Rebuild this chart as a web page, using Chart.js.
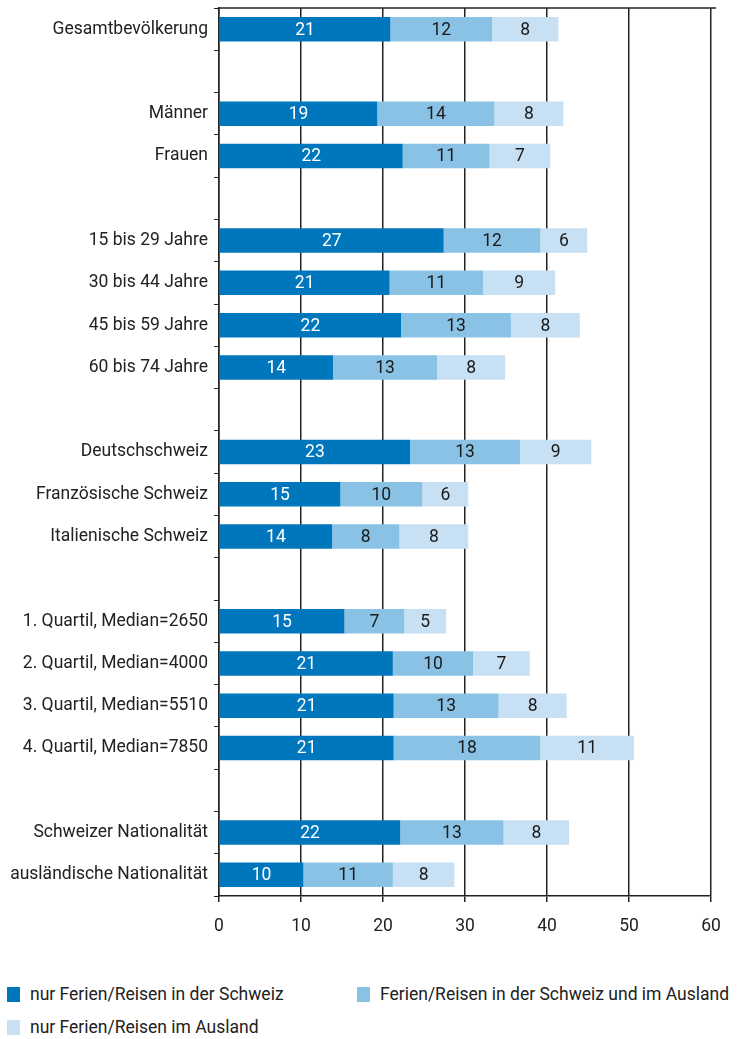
<!DOCTYPE html>
<html>
<head>
<meta charset="utf-8">
<script src="https://cdn.jsdelivr.net/npm/chart.js@4.4.1/dist/chart.umd.min.js"></script>
<style>
  body { margin: 0; background: #fff; font-family: Roboto, sans-serif; }
  #wrap { position: relative; width: 743px; height: 960px; }
  #legend { position: absolute; left: 0; top: 984px; width: 743px; font-size: 17.5px; color: #222; }
  .item { position: absolute; display: flex; align-items: center; }
  .box { width: 13px; height: 15px; margin-right: 10px; }
</style>
</head>
<body>
<div id="wrap"><canvas id="chart"></canvas></div>
<div id="legend"></div>
<script>
// categories, empty strings are the gaps between groups
const categories = [
    'Gesamtbevölkerung', '',
    'Männer', 'Frauen', '',
    '15 bis 29 Jahre', '30 bis 44 Jahre', '45 bis 59 Jahre', '60 bis 74 Jahre', '',
    'Deutschschweiz', 'Französische Schweiz', 'Italienische Schweiz', '',
    '1. Quartil, Median=2650', '2. Quartil, Median=4000', '3. Quartil, Median=5510', '4. Quartil, Median=7850', '',
    'Schweizer Nationalität', 'ausländische Nationalität'
];

const nurSchweiz = [20.9, null, 19.3, 22.4, null, 27.4, 20.8, 22.2, 13.9, null, 23.3, 14.8, 13.8, null, 15.3, 21.2, 21.3, 21.3, null, 22.1, 10.3];
const schweizUndAusland = [12.4, null, 14.3, 10.6, null, 11.8, 11.4, 13.4, 12.7, null, 13.4, 10.0, 8.2, null, 7.3, 9.8, 12.8, 17.9, null, 12.6, 10.9];
const nurAusland = [8.1, null, 8.4, 7.4, null, 5.7, 8.8, 8.4, 8.3, null, 8.7, 5.6, 8.4, null, 5.1, 6.9, 8.3, 11.4, null, 8.0, 7.5];

const seriesNames = ['nur Ferien/Reisen in der Schweiz', 'Ferien/Reisen in der Schweiz und im Ausland', 'nur Ferien/Reisen im Ausland'];
const seriesColors = ['#0077bd', '#89c2e4', '#c8e0f4'];
const labelColors = ['#ffffff', '#1a1a1a', '#1a1a1a'];

const xTicks = [0, 10, 20, 30, 40, 50, 60];

const FONT = 'Roboto, sans-serif';
const FONT_SIZE = 17.5;

// draws the rounded value in the middle of each segment
const segmentLabels = {
    id: 'segmentLabels',
    afterDatasetsDraw(chart) {
        const ctx = chart.ctx;
        ctx.save();
        ctx.font = FONT_SIZE + 'px ' + FONT;
        ctx.textAlign = 'center';
        ctx.textBaseline = 'middle';
        chart.data.datasets.forEach((ds, i) => {
            chart.getDatasetMeta(i).data.forEach((bar, j) => {
                if (ds.data[j] == null) return;
                const p = bar.getProps(['x', 'y', 'base'], true);
                ctx.fillStyle = labelColors[i];
                ctx.fillText(Math.round(ds.data[j]), (p.x + p.base) / 2, p.y + 1);
            });
        });
        ctx.restore();
    }
};

// top border of the plot
const topLine = {
    id: 'topLine',
    beforeDatasetsDraw(chart) {
        const { ctx, chartArea } = chart;
        ctx.save();
        ctx.strokeStyle = '#222';
        ctx.lineWidth = 1.5;
        ctx.beginPath();
        ctx.moveTo(chartArea.left, chartArea.top);
        ctx.lineTo(chartArea.right + 5, chartArea.top);
        ctx.stroke();
        ctx.restore();
    }
};

const chart = new Chart(document.getElementById('chart'), {
    type: 'bar',
    data: {
        labels: categories,
        datasets: [
            { label: seriesNames[0], data: nurSchweiz, backgroundColor: seriesColors[0] },
            { label: seriesNames[1], data: schweizUndAusland, backgroundColor: seriesColors[1] },
            { label: seriesNames[2], data: nurAusland, backgroundColor: seriesColors[2] }
        ]
    },
    options: {
        indexAxis: 'y',
        responsive: true,
        maintainAspectRatio: false,
        animation: false,
        layout: { padding: { top: 8, right: 32, left: 0, bottom: 0 } },
        datasets: { bar: { barPercentage: 0.58, categoryPercentage: 1, borderWidth: 0 } },
        plugins: {
            legend: { display: false },
            tooltip: { enabled: false }
        },
        scales: {
            x: {
                stacked: true,
                min: 0,
                max: 60,
                afterBuildTicks: scale => { scale.ticks = xTicks.map(v => ({ value: v })); },
                afterFit: scale => { scale.height = 64; scale.paddingLeft = 0; scale.paddingRight = 0; },
                grid: { color: '#222', lineWidth: 1.5, tickLength: 6, tickColor: '#222' },
                border: { color: '#222', width: 1.5 },
                ticks: { color: '#222', padding: 14, font: { family: FONT, size: FONT_SIZE } }
            },
            y: {
                stacked: true,
                afterFit: scale => { scale.width = 219; scale.paddingTop = 0; scale.paddingBottom = 0; },
                grid: { drawOnChartArea: false, tickLength: 5, tickColor: '#222' },
                border: { color: '#222', width: 1.5 },
                ticks: { color: '#222', padding: 6, autoSkip: false, font: { family: FONT, size: FONT_SIZE } }
            }
        }
    },
    plugins: [segmentLabels, topLine]
});

// legend laid out like the original, two columns
const legendPos = [[7, 0], [357, 0], [7, 33]];
const legend = document.getElementById('legend');
seriesNames.forEach((name, i) => {
    const el = document.createElement('div');
    el.className = 'item';
    el.style.left = legendPos[i][0] + 'px';
    el.style.top = legendPos[i][1] + 'px';
    el.innerHTML = '<span class="box" style="background:' + seriesColors[i] + '"></span><span>' + name + '</span>';
    legend.appendChild(el);
});
</script>
</body>
</html>
